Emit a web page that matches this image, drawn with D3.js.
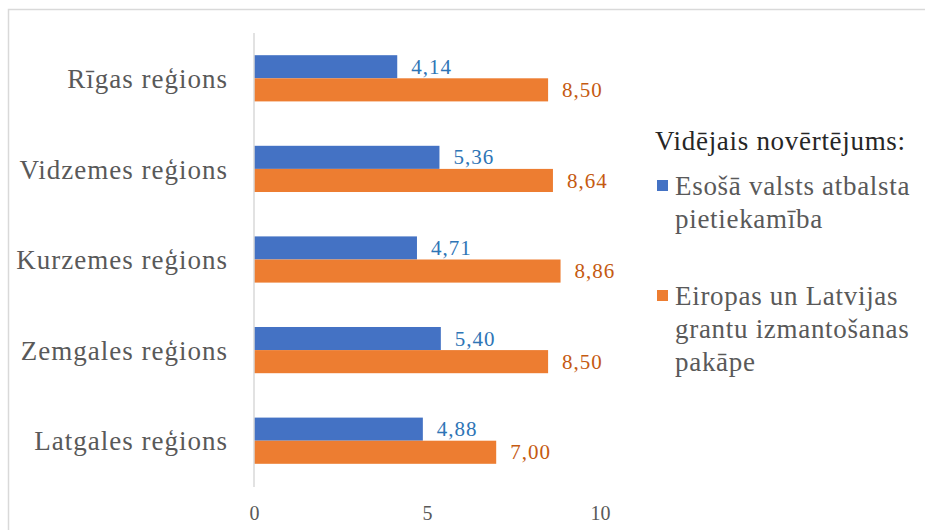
<!DOCTYPE html>
<html><head><meta charset="utf-8">
<script src="https://cdn.jsdelivr.net/npm/d3@7"></script>
<style>body{margin:0;background:#fff}svg{display:block}</style>
</head><body>
<script>
const categories = ["Rīgas reģions","Vidzemes reģions","Kurzemes reģions","Zemgales reģions","Latgales reģions"];
const seriesNames = ["Esošā valsts atbalsta pietiekamība","Eiropas un Latvijas grantu izmantošanas pakāpe"];
const support = [4.14, 5.36, 4.71, 5.40, 4.88];
const grants = [8.50, 8.64, 8.86, 8.50, 7.00];
const xTicks = [0, 5, 10];
const legendTitle = "Vidējais novērtējums:";
const legendLines = [["Esošā valsts atbalsta","pietiekamība"],["Eiropas un Latvijas","grantu izmantošanas","pakāpe"]];

const W = 925, H = 530;
const barColors = ["#4472c4", "#ed7d31"];
const labelColors = ["#2e75b6", "#c55a11"];
const font = "'Liberation Serif'";

const svg = d3.select("body").append("svg").attr("width", W).attr("height", H);
// chart border
svg.append("path").attr("d", `M8.5,${H} V9.5 H${W}`).attr("fill","none").attr("stroke","#d9d9d9").attr("stroke-width",1.5);

const x = d3.scaleLinear().domain([0,10]).range([254,600]);
const y = d3.scaleBand().domain(categories).range([33,486]).paddingInner(0.49).paddingOuter(0.245);
const ys = d3.scaleBand().domain([0,1]).range([0, y.bandwidth()]);

const data = categories.map((c,i)=>({cat:c, vals:[support[i], grants[i]]}));

const g = svg.append("g");
data.forEach(d=>{
  d.vals.forEach((v,s)=>{
    g.append("rect").attr("x", x(0)).attr("y", y(d.cat)+ys(s))
      .attr("width", x(v)-x(0)).attr("height", ys.bandwidth()).attr("fill", barColors[s]);
    g.append("text").attr("x", x(v)+14).attr("y", y(d.cat)+ys(s)+ys.bandwidth()/2)
      .attr("dy","0.34em").style("font-family",font).style("font-size","21px").style("letter-spacing","1px")
      .attr("fill", labelColors[s]).text(d3.format(".2f")(v).replace(".",","));
  });
});

// category axis line
svg.append("line").attr("x1",x(0)).attr("x2",x(0)).attr("y1",33).attr("y2",487)
  .attr("stroke","#d9d9d9").attr("stroke-width",1.5);

// category labels
const yAxis = d3.axisLeft(y).tickSize(0).tickPadding(26);
const ya = svg.append("g").attr("transform",`translate(${x(0)},0)`).call(yAxis);
ya.select(".domain").remove();
ya.selectAll("text").attr("dy","0.36em").style("font-family",font).style("font-size","27px")
  .style("letter-spacing","1px").attr("fill","#595959");

// x axis tick labels
const xAxis = d3.axisBottom(x).tickValues(xTicks).tickSize(0).tickPadding(0).tickFormat(d3.format("d"));
const xa = svg.append("g").attr("transform","translate(0,520)").call(xAxis);
xa.select(".domain").remove();
xa.selectAll("text").attr("dy","0").style("font-family",font).style("font-size","20px").attr("fill","#595959");

// legend
const lg = svg.append("g");
lg.append("text").attr("x",655).attr("y",150).style("font-family",font)
  .style("font-size","27px").style("letter-spacing","0.7px").attr("fill","#262626").text(legendTitle);
const legendY = [195, 305];
legendLines.forEach((lines,s)=>{
  lg.append("rect").attr("x",657).attr("y",legendY[s]-15).attr("width",11).attr("height",11).attr("fill",barColors[s]);
  lines.forEach((t,k)=>{
    lg.append("text").attr("x",675).attr("y",legendY[s]+k*33)
      .style("font-family",font).style("font-size","27px").style("letter-spacing","0.7px")
      .attr("fill","#595959").text(t);
  });
});
</script>
</body></html>
